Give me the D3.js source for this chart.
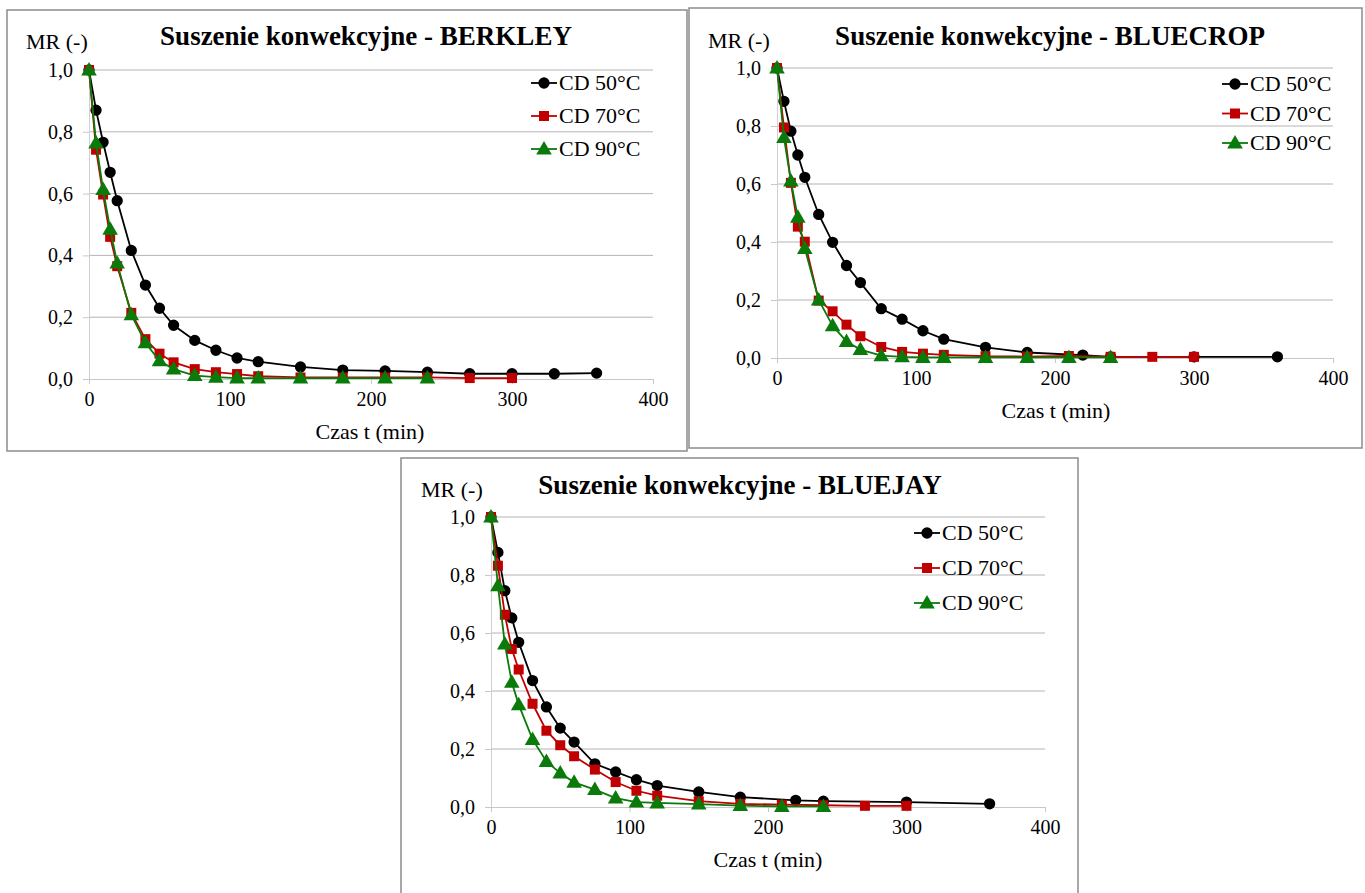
<!DOCTYPE html>
<html><head><meta charset="UTF-8">
<script src="https://cdn.jsdelivr.net/npm/d3@7"></script>
<style>
  body { margin: 0; background: #fff; }
</style>
</head>
<body>
<script>
"use strict";
// time points (min) for each series
const t50 = [0,5,10,15,20,30,40,50,60,75,90,105,120,150,180,210,240,270,300,330,360];
const t50b = [0,5,10,15,20,30,40,50,60,75,90,105,120,150,180,220,240,300,360];
const t70 = [0,5,10,15,20,30,40,50,60,75,90,105,120,150,180,210,240,270,300];
const t90 = [0,5,10,15,20,30,40,50,60,75,90,105,120,150,180,210,240];

// MR values
const berkley50 = [1.0,0.870,0.766,0.669,0.577,0.416,0.304,0.229,0.174,0.125,0.093,0.068,0.056,0.039,0.029,0.026,0.022,0.017,0.017,0.017,0.019];
const berkley70 = [1.0,0.742,0.597,0.460,0.365,0.214,0.129,0.082,0.054,0.032,0.022,0.016,0.009,0.005,0.005,0.005,0.005,0.003,0.003];
const berkley90 = [1.0,0.764,0.613,0.485,0.375,0.208,0.117,0.059,0.032,0.011,0.006,0.003,0.003,0.003,0.003,0.003,0.003];

const bluecrop50 = [1.0,0.885,0.782,0.700,0.623,0.495,0.399,0.319,0.260,0.170,0.134,0.094,0.065,0.037,0.019,0.010,0.004,0.004,0.004];
const bluecrop70 = [1.0,0.795,0.604,0.453,0.401,0.198,0.161,0.115,0.075,0.038,0.021,0.015,0.011,0.006,0.005,0.007,0.004,0.004,0.004];
const bluecrop90 = [1.0,0.760,0.610,0.485,0.378,0.200,0.111,0.057,0.029,0.008,0.004,0.002,0.002,0.002,0.002,0.002,0.002];

const bluejay50 = [1.0,0.878,0.746,0.652,0.568,0.436,0.345,0.272,0.224,0.149,0.121,0.094,0.074,0.052,0.034,0.023,0.020,0.017,0.011];
const bluejay70 = [1.0,0.832,0.663,0.545,0.474,0.356,0.263,0.213,0.175,0.129,0.086,0.056,0.039,0.020,0.011,0.008,0.006,0.004,0.004];
const bluejay90 = [1.0,0.763,0.562,0.430,0.353,0.233,0.157,0.117,0.085,0.060,0.031,0.017,0.014,0.010,0.005,0.002,0.002];

const seriesNames = ["CD 50°C", "CD 70°C", "CD 90°C"];
const xTicks = [0, 100, 200, 300, 400];
const yTicks = [0, 0.2, 0.4, 0.6, 0.8, 1.0];

const colors = ["#000000", "#c00000", "#0a7a0a"];
const shapes = [d3.symbolCircle, d3.symbolSquare, d3.symbolTriangle];
const sizes = [100, 100, 105];
const FONT = "Liberation Serif";

const svg = d3.select("body").append("svg")
    .attr("width", 1365).attr("height", 893);

function zip(t, v) { return t.map((d, i) => ({t: d, v: v[i]})); }
const fmt = d => d.toFixed(1).replace(".", ",");

// serif text helper
function label(sel, size, txt) {
  return sel.append("text")
      .attr("font-family", FONT).style("font-family", `"${FONT}"`)
      .attr("font-size", size).style("font-size", size + "px")
      .text(txt);
}

function panel(cfg) {
  const g = svg.append("g");
  // frame
  g.append("rect")
      .attr("x", cfg.frame[0]).attr("y", cfg.frame[1])
      .attr("width", cfg.frame[2]).attr("height", cfg.frame[3])
      .attr("fill", "#fff").attr("stroke", "#8c8c8c").attr("stroke-width", 1.5);

  const x = d3.scaleLinear().domain([0, 400]).range([cfg.x0, cfg.x1]);
  const y = d3.scaleLinear().domain([0, 1]).range([cfg.y0, cfg.y1]);

  // gridlines
  g.append("g").selectAll("line").data(yTicks.filter(d => d > 0)).join("line")
      .attr("x1", cfg.x0).attr("x2", cfg.x1)
      .attr("y1", d => y(d)).attr("y2", d => y(d))
      .attr("stroke", "#b4b4b4").attr("stroke-width", 1);

  // y axis
  const ya = g.append("g").attr("transform", `translate(${cfg.x0},0)`)
      .call(d3.axisLeft(y).tickValues(yTicks).tickFormat(fmt).tickSize(6).tickPadding(10))
      .attr("font-family", FONT).attr("font-size", 20);
  ya.select(".domain").attr("stroke", "#d0d0d0");
  ya.selectAll(".tick line").attr("stroke", "#c8c8c8");
  ya.selectAll(".tick text").style("font-family", `"${FONT}"`).style("font-size", "20px").attr("fill", "#000");

  // x axis
  const xa = g.append("g").attr("transform", `translate(0,${cfg.y0})`)
      .call(d3.axisBottom(x).tickValues(xTicks).tickFormat(d3.format("d")).tickSize(5).tickPadding(8))
      .attr("font-family", FONT).attr("font-size", 20);
  xa.select(".domain").attr("stroke", "#c8c8c8");
  xa.selectAll(".tick line").attr("stroke", "#c8c8c8");
  xa.selectAll(".tick text").style("font-family", `"${FONT}"`).style("font-size", "20px").attr("fill", "#000");

  // titles
  label(g, 27, cfg.title)
      .attr("x", cfg.titleX).attr("y", cfg.titleY)
      .attr("text-anchor", "middle").attr("font-weight", "bold");
  label(g, 22, "MR (-)").attr("x", cfg.mrX).attr("y", cfg.mrY);
  label(g, 22, "Czas t (min)")
      .attr("x", cfg.xlabX).attr("y", cfg.xlabY).attr("text-anchor", "middle");

  // series
  const line = d3.line().x(d => x(d.t)).y(d => y(d.v));
  cfg.series.forEach((s, i) => {
    const pts = zip(s.t, s.v);
    g.append("path").datum(pts)
        .attr("d", line).attr("fill", "none")
        .attr("stroke", colors[i]).attr("stroke-width", 1.8);
    g.append("g").selectAll("path").data(pts).join("path")
        .attr("transform", d => `translate(${x(d.t)},${y(d.v) + (i === 2 ? 1 : 0)})`)
        .attr("d", d3.symbol(shapes[i], sizes[i]))
        .attr("fill", colors[i]);
  });

  // legend
  seriesNames.forEach((name, i) => {
    const ly = cfg.legY + i * cfg.legDy;
    const lg = g.append("g");
    lg.append("line").attr("x1", cfg.legX).attr("x2", cfg.legX + 26)
        .attr("y1", ly).attr("y2", ly)
        .attr("stroke", colors[i]).attr("stroke-width", 1.8);
    lg.append("path")
        .attr("transform", `translate(${cfg.legX + 13},${ly + (i === 2 ? 1 : 0)})`)
        .attr("d", d3.symbol(shapes[i], sizes[i]))
        .attr("fill", colors[i]);
    label(lg, 22, name).attr("x", cfg.legX + 28).attr("y", ly + 7);
  });
}

panel({
  frame: [7, 10, 680, 441],
  x0: 89, x1: 653, y0: 379, y1: 70,
  title: "Suszenie konwekcyjne - BERKLEY", titleX: 366, titleY: 45,
  mrX: 26, mrY: 49, xlabX: 370, xlabY: 439,
  legX: 531, legY: 83, legDy: 33,
  series: [{t: t50, v: berkley50}, {t: t70, v: berkley70}, {t: t90, v: berkley90}]
});

panel({
  frame: [689, 8, 673, 440],
  x0: 777, x1: 1333, y0: 358, y1: 68,
  title: "Suszenie konwekcyjne - BLUECROP", titleX: 1050, titleY: 45,
  mrX: 708, mrY: 48, xlabX: 1056, xlabY: 418,
  legX: 1222, legY: 84, legDy: 29.5,
  series: [{t: t50b, v: bluecrop50}, {t: t70, v: bluecrop70}, {t: t90, v: bluecrop90}]
});

panel({
  frame: [401, 458, 677, 450],
  x0: 491, x1: 1045, y0: 807, y1: 517,
  title: "Suszenie konwekcyjne - BLUEJAY", titleX: 740, titleY: 494,
  mrX: 421, mrY: 497, xlabX: 768, xlabY: 867,
  legX: 914, legY: 533, legDy: 35,
  series: [{t: t50b, v: bluejay50}, {t: t70, v: bluejay70}, {t: t90, v: bluejay90}]
});
</script>
</body>
</html>
